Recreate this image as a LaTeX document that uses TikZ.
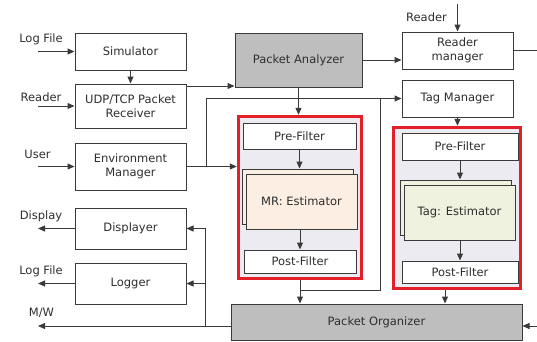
\documentclass[tikz,border=0pt]{standalone}
\usepackage{fontspec}
\setmainfont{DejaVu Sans}
\usetikzlibrary{arrows.meta,positioning,shadows}
\definecolor{boxline}{HTML}{3A3A3A}
\definecolor{pgray}{HTML}{BEBEBE}
\definecolor{hired}{HTML}{E3202A}
\definecolor{lav}{HTML}{EDEBF2}
\definecolor{peach}{HTML}{FCEEE2}
\definecolor{sage}{HTML}{EEF2DF}
\definecolor{txt}{HTML}{2E2E2E}
\tikzset{
  >={Triangle[length=7pt,width=6pt]},
  blk/.style={draw=boxline, line width=1pt, fill=white, align=center, text=txt, font=\fontsize{11.5}{14}\selectfont, inner sep=1pt},
  gblk/.style={blk, fill=pgray},
  lbox/.style={blk, minimum width=111pt},
  est/.style={blk, fill=#1, minimum width=111pt, minimum height=55pt,
    copy shadow={shadow xshift=-4pt, shadow yshift=5pt, fill=#1, draw=boxline, line width=1pt}},
  grp/.style={draw=hired, line width=3.4pt, fill=lav, inner sep=0pt},
  lbl/.style={text=txt, font=\fontsize{11.5}{14}\selectfont, inner sep=0pt},
  flow/.style={->, draw=boxline, line width=1pt},
  wire/.style={draw=boxline, line width=1pt},
}
\begin{document}
\begin{tikzpicture}[x=1pt, y=-1pt]
  \useasboundingbox (0,0) rectangle (537,341);
  % left column
  \node[lbox, minimum height=37pt] (sim)  at (130.5,51.5)  {Simulator};
  \node[lbox, minimum height=44pt] (recv) at (130.5,106)   {UDP/TCP Packet\\Receiver};
  \node[lbox, minimum height=47pt] (env)  at (130.5,166.5) {Environment\\Manager};
  \node[lbox, minimum height=41pt] (disp) at (130.5,228.5) {Displayer};
  \node[lbox, minimum height=41pt] (logr) at (130.5,283.5) {Logger};
  % outside inputs and outputs
  \node[lbl] (lfinlbl)  at (41,39)    {Log File};
  \node[lbl] (rdinlbl)  at (41,97)    {Reader};
  \node[lbl] (userlbl)  at (37.5,154) {User};
  \node[lbl] (displbl)  at (41,216)   {Display};
  \node[lbl] (lfoutlbl) at (41,271)   {Log File};
  \node[lbl] (mwlbl)    at (41.5,313) {M/W};
  \node[lbl] (rdlbl)    at (426.5,17) {Reader};
  \coordinate (lfin)   at (38,51.5);
  \coordinate (rdin)   at (38,106);
  \coordinate (userin) at (38,166.5);
  \coordinate (dispout) at (38,228.5);
  \coordinate (lfout)  at (38,283.5);
  \coordinate (mwout)  at (38,326);
  \coordinate (rdtop)  at (457.5,4);
  \coordinate (rmout)  at (537,50.5);
  \coordinate (poin)   at (537,326);
  % packet handling
  \node[gblk, minimum width=127pt, minimum height=54pt] (pa) at (298.5,60) {Packet Analyzer};
  \node[blk, minimum width=111pt, minimum height=37pt] (rm) at (457.5,50.5) {Reader\\manager};
  \node[blk, minimum width=111pt, minimum height=37pt] (tm) at (457.5,98.5) {Tag Manager};
  \node[gblk, minimum width=291pt, minimum height=36pt] (po) at (376.5,322) {Packet Organizer};
  % estimator groups
  \node[grp, minimum width=123pt, minimum height=162pt] (mrgrp) at (300,197.5) {};
  \node[blk, minimum width=113pt, minimum height=26pt] (mrpre)  at (299.5,136)   {Pre-Filter};
  \node[est=peach] (mrest) at (301.5,201.5) {MR: Estimator};
  \node[blk, minimum width=112pt, minimum height=23pt] (mrpost) at (300,261.5)   {Post-Filter};
  \node[grp, minimum width=127pt, minimum height=161pt] (tggrp) at (457,208) {};
  \node[blk, minimum width=116pt, minimum height=27pt] (tgpre)  at (460,146.5)   {Pre-Filter};
  \node[est=sage] (tgest) at (459.5,212.5) {Tag: Estimator};
  \node[blk, minimum width=116pt, minimum height=22pt] (tgpost) at (460,272)     {Post-Filter};
  % connections
  \draw[flow] (lfin) -- (sim.west);
  \draw[flow] (rdin) -- (recv.west);
  \draw[flow] (userin) -- (env.west);
  \draw[flow] (disp.west) -- (dispout);
  \draw[flow] (logr.west) -- (lfout);
  \draw[flow] (sim.south) -- (recv.north);
  \draw[flow] ([yshift=20pt]recv.east) coordinate (rx) -- (rx -| pa.west);
  \draw[flow] (pa.east) -- (pa.east -| rm.west);
  \draw[flow] (rdtop) -- (rm.north);
  \draw[wire] (rm.east) -- (rmout);
  \draw[flow] (pa.south) -- (pa.south |- mrgrp.north);
  \draw[flow] (env.east) -- (env.east -| mrgrp.west);
  \coordinate (envsplit) at (206,166.5);
  \draw[flow] (envsplit) |- (tm.west);
  \coordinate (tmtap) at (380,98.5);
  \coordinate (join)  at (300,290);
  \draw[wire] (tmtap) |- (join);
  \draw[flow] (tm.south) -- (tm.south |- tggrp.north);
  \draw[flow] (mrpre.south) -- ([yshift=5pt]mrest.north -| mrpre.south);
  \draw[flow] (mrest.south -| mrpost.north) -- (mrpost.north);
  \draw[flow] (tgpre.south) -- ([yshift=5pt]tgest.north -| tgpre.south);
  \draw[flow] (tgest.south -| tgpost.north) -- (tgpost.north);
  \draw[flow] (mrgrp.south) -- (mrgrp.south |- po.north);
  \coordinate (tgout) at ([xshift=-12pt]tggrp.south);
  \draw[flow] (tgout) -- (tgout |- po.north);
  \draw[flow] (poin) -- (poin -| po.east);
  \draw[flow] (po.west |- mwout) -- (mwout);
  \coordinate (bus) at (205,326);
  \draw[flow] (bus) |- (disp.east);
  \draw[flow] (bus) |- (logr.east);
\end{tikzpicture}
\end{document}
